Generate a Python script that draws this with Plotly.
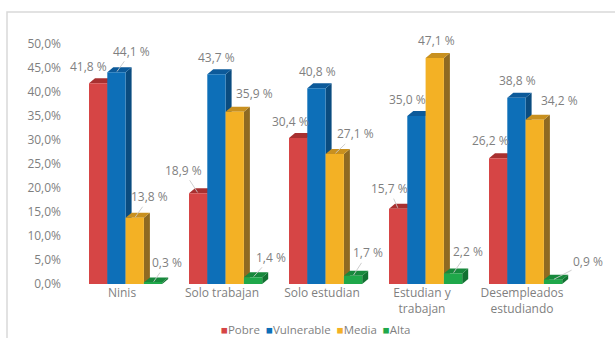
import plotly.graph_objects as go

# ---------------- data ----------------
categories = ["Ninis", "Solo trabajan", "Solo estudian", "Estudian y<br>trabajan", "Desempleados<br>estudiando"]
series_names = ["Pobre", "Vulnerable", "Media", "Alta"]
pobre = [41.8, 18.9, 30.4, 15.7, 26.2]
vulnerable = [44.1, 43.7, 40.8, 35.0, 38.8]
media = [13.8, 35.9, 27.1, 47.1, 34.2]
alta = [0.3, 1.4, 1.7, 2.2, 0.9]
y_tick_values = [0, 5, 10, 15, 20, 25, 30, 35, 40, 45, 50]
y_tick_labels = ["0,0%", "5,0%", "10,0%", "15,0%", "20,0%", "25,0%", "30,0%", "35,0%", "40,0%", "45,0%", "50,0%"]

# ---------------- styles ----------------
series_values = [pobre, vulnerable, media, alta]
front_colors = ["#d64545", "#0d6fb8", "#f3b125", "#1fa84a"]
top_colors = ["#a83030", "#0c5a9a", "#c8901f", "#17893c"]
side_colors = ["#8a2626", "#0a4c80", "#8f6a22", "#127232"]
BAR_W = 0.183
OFF0 = -0.33
DX = 0.06          # depth in x (axis units)
DY = 1.04          # depth in y (axis units)
TEXT_COLOR = "#7f7f7f"
FONT = "Open Sans"

# label offsets (pixels) relative to the top centre of each bar front, and leader flags
label_dx = [[-10, -15, -8, -9, -8], [15, 0, 1, -9, 1], [15, 20, 21, 2, 25], [14, 18, 15, 15, 35]]
label_dy = [[-17, -23, -17, -20, -18], [-21, -17, -17, -17, -17], [-21, -18, -20, -17, -19], [-20, -20, -23, -22, -18]]
leader = [[0, 1, 0, 1, 0], [1, 0, 0, 0, 0], [1, 0, 1, 0, 0], [1, 1, 1, 1, 1]]

xs = list(range(len(categories)))

fig = go.Figure()
shapes = []
annotations = []

for k, (name, vals) in enumerate(zip(series_names, series_values)):
    off = OFF0 + k * BAR_W
    fig.add_trace(go.Bar(
        x=xs, y=vals, name=name, width=BAR_W, offset=off,
        marker=dict(color=front_colors[k], line=dict(width=0)),
        showlegend=False, hoverinfo="y",
    ))
    for i, v in enumerate(vals):
        x0 = i + off
        x1 = x0 + BAR_W
        # side face
        shapes.append(dict(
            type="path", xref="x", yref="y", layer="below",
            path=f"M {x1},0 L {x1},{v} L {x1 + DX},{v + DY} L {x1 + DX},{DY} Z",
            fillcolor=side_colors[k], line=dict(width=0),
        ))
        # top face
        shapes.append(dict(
            type="path", xref="x", yref="y", layer="below",
            path=f"M {x0},{v} L {x0 + DX},{v + DY} L {x1 + DX},{v + DY} L {x1},{v} Z",
            fillcolor=top_colors[k], line=dict(width=0),
        ))
        txt = f"{v:.1f}".replace(".", ",") + " %"
        cx = (x0 + x1) / 2
        if leader[k][i]:
            annotations.append(dict(
                x=cx, y=v, xref="x", yref="y", text=txt,
                showarrow=True, arrowhead=0, arrowwidth=0.9, arrowcolor="#c8c8c8",
                ax=label_dx[k][i], ay=label_dy[k][i], standoff=1,
                font=dict(family=FONT, size=12, color=TEXT_COLOR),
            ))
        else:
            annotations.append(dict(
                x=cx, y=v, xref="x", yref="y", text=txt, showarrow=False,
                xshift=label_dx[k][i], yshift=-label_dy[k][i],
                font=dict(family=FONT, size=12, color=TEXT_COLOR),
            ))

# legend drawn as a single text line
legend_parts = []
for name, col in zip(series_names, front_colors):
    legend_parts.append(f'<span style="color:{col}">■</span>{name}')
annotations.append(dict(
    x=0.486, y=-0.1875, xref="paper", yref="paper", showarrow=False,
    text="  ".join(legend_parts), xanchor="center", yanchor="middle",
    font=dict(family=FONT, size=11.5, color=TEXT_COLOR),
))

# outer frame
shapes.append(dict(
    type="rect", xref="paper", yref="paper", x0=-0.13, x1=1.2, y0=-0.4, y1=1.133,
    line=dict(color="#d9d9d9", width=1.5), fillcolor="rgba(0,0,0,0)", layer="below",
))

fig.update_layout(
    width=615, height=338,
    margin=dict(l=72, r=43, t=44, b=54),
    paper_bgcolor="white", plot_bgcolor="white",
    showlegend=False,
    shapes=shapes, annotations=annotations,
    font=dict(family=FONT, size=12, color=TEXT_COLOR),
    xaxis=dict(
        range=[-0.5, 4.5], tickmode="array", tickvals=xs, ticktext=categories,
        showgrid=False, zeroline=False, showline=False, ticks="",
        tickfont=dict(family=FONT, size=12, color=TEXT_COLOR),
    ),
    yaxis=dict(
        range=[0, 50], tickmode="array", tickvals=y_tick_values, ticktext=y_tick_labels,
        showgrid=False, zeroline=False, showline=False, ticks="",
        ticklabelstandoff=10,
        tickfont=dict(family=FONT, size=12, color=TEXT_COLOR),
    ),
)

fig.write_html(
    "out.html",
    config={"displayModeBar": False},
    post_script="document.body.style.margin='0';document.body.style.overflow='hidden';",
)
